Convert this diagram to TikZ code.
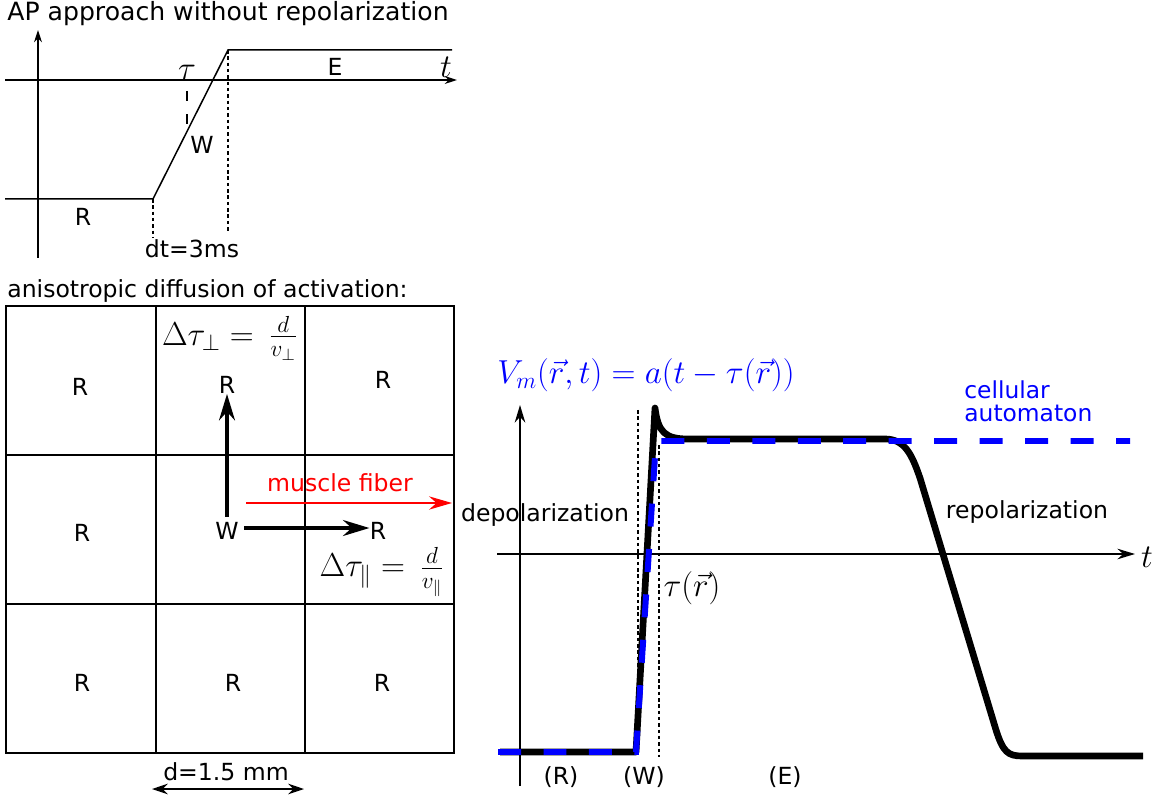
\documentclass[tikz,border=0pt]{standalone}
\usepackage{fix-cm}
\usepackage{fontspec}
\setmainfont{DejaVu Sans}
\usetikzlibrary{arrows.meta, positioning}

\begin{document}
\begin{tikzpicture}[x=0.02cm,y=-0.02cm,
  lbl/.style={font=\fontsize{13.4}{16}\selectfont,inner sep=0pt},
  mth/.style={font=\fontsize{18.9}{22}\selectfont,inner sep=0pt},
  ax/.style={line width=0.85pt,-{Stealth[length=7pt,width=4.5pt]}},
  axr/.style={line width=1.1pt,-{Stealth[length=10pt,width=6pt]}},
  hint/.style={line width=0.6pt,dash pattern=on 2pt off 1.6pt},
  cellline/.style={line width=0.75pt},
  prop/.style={line width=2.3pt,-{Stealth[length=15pt,width=9pt]}},
  fiber/.style={red,line width=1.4pt,-{Stealth[length=13pt,width=7.5pt]}},
  apcurve/.style={line width=3.8pt,line join=round},
  cacurve/.style={blue,line width=3.4pt,dash pattern=on 0.46cm off 0.45cm}
]
  \useasboundingbox (0,0) rectangle (1162,803);

  % --- AP approach without repolarization
  \node[lbl,anchor=base west,font=\fontsize{14.3}{17}\selectfont](ttl1) at (7,21) {AP approach without repolarization};
  \coordinate (o1) at (38,258);  \coordinate (o1t) at (38,30);
  \coordinate (x1l) at (5,80);   \coordinate (x1r) at (457,80);
  \draw[ax](o1)--(o1t);
  \draw[ax](x1l)--(x1r);
  \coordinate (rs) at (5,199);   \coordinate (ws) at (153,199);
  \coordinate (es) at (228,50);  \coordinate (ee) at (452,50);
  \draw[line width=0.85pt](rs)--(ws)--(es)--(ee);
  \coordinate (wsb) at (153,238); \coordinate (esb) at (228,233);
  \draw[hint](ws)--(wsb);\draw[hint](es)--(esb);
  \coordinate (tau0) at (187,91); \coordinate (tau1) at (187,126);
  \draw[line width=0.85pt,dash pattern=on 5.7pt off 7.4pt](tau0)--(tau1);
  \node[mth] (tau) at (187,72)  {$\tau$};
  \node[mth] (t1)  at (446,67)  {$t$};
  \node[lbl] (lw)  at (202,145) {W};
  \node[lbl] (lr)  at (83,217)  {R};
  \node[lbl] (le)  at (335,67)  {E};
  \node[lbl] (dt)  at (192,249) {dt=3ms};

  % --- anisotropic diffusion grid
  \node[lbl,anchor=base west](ttl2) at (7,298) {anisotropic diffusion of activation:};
  \draw[line width=1.1pt](6,306) rectangle (454,753);
  \draw[cellline](156,306)--(156,753);\draw[cellline](305,306)--(305,753);
  \draw[cellline](6,455)--(454,455);\draw[cellline](6,604)--(454,604);
  \node[lbl] (r11) at (80,387)  {R};
  \node[lbl] (r12) at (227,385) {R};
  \node[lbl] (r13) at (383,380) {R};
  \node[lbl] (r21) at (82,533)  {R};
  \node[lbl] (w22) at (227,531) {W};
  \node[lbl] (r23) at (378,531) {R};
  \node[lbl] (r31) at (82,683)  {R};
  \node[lbl] (r32) at (233,683) {R};
  \node[lbl] (r33) at (382,683) {R};
  \node[mth] (dtp) at (230,338) {$\Delta\tau_\perp =\, \frac{d}{v_\perp}$};
  \node[mth] (dtl) at (382,572) {$\Delta\tau_\| =\, \frac{d}{v_\|}$};
  \draw[prop,shorten <=3pt](w22.north)--(r12.south);
  \draw[prop,shorten <=3pt]([yshift=1.7pt]w22.east)--([yshift=1.7pt]r23.west);
  \coordinate (fib0) at (246,503); \coordinate (fib1) at (452,503);
  \draw[fiber](fib0)--(fib1);
  \node[lbl,red] (mf) at (340,483) {muscle fiber};
  \node[lbl] (dd) at (226,772) {d=1.5 mm};
  \coordinate (dl) at (152,789); \coordinate (dr) at (304,789);
  \draw[line width=1pt,{Stealth[length=9pt,width=6pt]}-{Stealth[length=9pt,width=6pt]}](dl)--(dr);

  % --- action potential vs cellular automaton
  \coordinate (o2) at (520,786);  \coordinate (o2t) at (520,405);
  \coordinate (x2l) at (497,554); \coordinate (x2r) at (1135,554);
  \draw[axr](o2)--(o2t);
  \draw[axr](x2l)--(x2r);
  \node[mth] (t2) at (1147,557) {$t$};
  \coordinate (wa) at (638,410); \coordinate (wab) at (638,752);
  \coordinate (wb) at (659,445); \coordinate (wbb) at (659,757);
  \draw[hint](wa)--(wab);\draw[hint](wb)--(wbb);
  \draw[apcurve](500,752)--(636,752)--(655,408)
    .. controls (658,432) and (665,439) .. (688,439)--(885,439)
    .. controls (905,439) and (912,455) .. (920,478)--(996,730)
    .. controls (1003,752) and (1008,756) .. (1022,756)--(1143,756);
  \draw[cacurve](498,752)--(636,752)--(656,441)--(1130,441);
  \node[mth,blue] (vm) at (646,375) {$V_m(\vec{r},t)=a(t-\tau(\vec{r}))$};
  \node[lbl,blue,align=left,anchor=west,font=\fontsize{13.3}{13}\selectfont] (ca) at (964,401) {cellular\\automaton};
  \node[lbl] (dep) at (545,515) {depolarization};
  \node[lbl] (rep) at (1027,512) {repolarization};
  \node[mth] (taur) at (692,588) {$\tau(\vec{r})$};
  \node[lbl] (pr) at (561,777) {(R)};
  \node[lbl] (pw) at (644,777) {(W)};
  \node[lbl] (pe) at (785,777) {(E)};
\end{tikzpicture}
\end{document}
